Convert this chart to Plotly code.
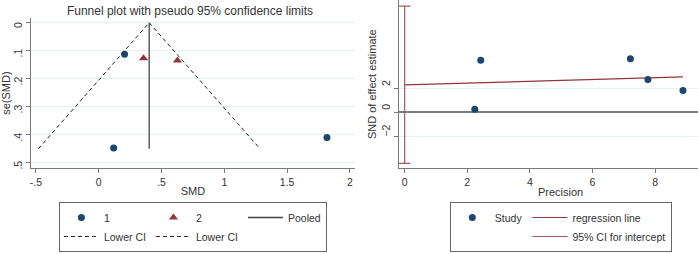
import plotly.graph_objects as go

# ---------------- data ----------------
# Funnel plot (left)
g1_smd = [0.206, 0.119, 1.817]
g1_se = [0.113, 0.447, 0.410]
g2_smd = [0.357, 0.627]
g2_se = [0.127, 0.135]
pooled_smd = [0.402, 0.402]
pooled_se = [0.0, 0.45]
ci_low_smd = [-0.48, 0.402]
ci_low_se = [0.45, 0.0]
ci_up_smd = [0.402, 1.284]
ci_up_se = [0.0, 0.45]
funnel_xticks = [-0.5, 0, 0.5, 1, 1.5, 2]
funnel_xlabels = ["-.5", "0", ".5", "1", "1.5", "2"]
funnel_yticks = [0, 0.1, 0.2, 0.3, 0.4, 0.5]
funnel_ylabels = ["0", ".1", ".2", ".3", ".4", ".5"]

# Egger / Galbraith plot (right)
precision = [2.43, 2.24, 7.21, 7.77, 8.89]
snd = [4.41, 0.26, 4.53, 2.77, 1.84]
reg_x = [0.0, 8.89]
reg_y = [2.32, 3.00]
ci_x = [0.0, 0.0]
ci_y = [-4.30, 8.98]
egger_xticks = [0, 2, 4, 6, 8]
egger_yticks = [-2, 0, 2]

NAVY = "#1a476f"
MAROON = "#90353b"
CI_COL = "#a2575d"
AX = "#7a7a7a"
GRID = "#e6eff1"
FONT = "Arial, Liberation Sans, sans-serif"

W, H = 699, 254

fig = go.Figure()

# left panel traces
fig.add_trace(go.Scatter(x=g1_smd, y=g1_se, mode="markers", name="1",
                         marker=dict(symbol="circle", size=7, color=NAVY),
                         legendgroup="a", legend="legend", xaxis="x", yaxis="y"))
fig.add_trace(go.Scatter(x=g2_smd, y=g2_se, mode="markers", name="2",
                         marker=dict(symbol="triangle-up", size=8, color=MAROON),
                         legendgroup="b", legend="legend", xaxis="x", yaxis="y"))
fig.add_trace(go.Scatter(x=ci_low_smd, y=ci_low_se, mode="lines", name="Lower CI",
                         line=dict(color="#222222", width=1, dash="4px,3px"),
                         legendgroup="a", legend="legend", xaxis="x", yaxis="y"))
fig.add_trace(go.Scatter(x=ci_up_smd, y=ci_up_se, mode="lines", name="Lower CI",
                         line=dict(color="#222222", width=1, dash="4px,3px"),
                         legendgroup="b", legend="legend", xaxis="x", yaxis="y"))
fig.add_trace(go.Scatter(x=pooled_smd, y=pooled_se, mode="lines", name="Pooled",
                         line=dict(color="#444444", width=1.3),
                         legendgroup="c", legend="legend", xaxis="x", yaxis="y"))

# right panel traces
fig.add_trace(go.Scatter(x=ci_x, y=ci_y, mode="lines+markers", name="95% CI for intercept",
                         line=dict(color=CI_COL, width=1.2),
                         marker=dict(symbol="line-ew-open", size=8, color=CI_COL,
                                     line=dict(color=CI_COL, width=1.2)),
                         legendgroup="r2", legend="legend2", legendrank=3,
                         xaxis="x2", yaxis="y2"))
fig.add_trace(go.Scatter(x=reg_x, y=reg_y, mode="lines", name="regression line",
                         line=dict(color=MAROON, width=1.2),
                         legendgroup="r2", legend="legend2", legendrank=2,
                         xaxis="x2", yaxis="y2"))
fig.add_trace(go.Scatter(x=precision, y=snd, mode="markers", name="Study",
                         marker=dict(symbol="circle", size=7, color=NAVY),
                         legendgroup="r1", legend="legend2", legendrank=1,
                         xaxis="x2", yaxis="y2"))

tickfont = dict(family=FONT, size=10.5, color="#333333")
titlefont = dict(family=FONT, size=11, color="#333333")

left_bottom = 169
right_bottom = 169

axis_common = dict(showline=True, linecolor=AX, linewidth=1, ticks="outside",
                   ticklen=4, tickcolor=AX, tickfont=tickfont)

fig.update_layout(
    width=W, height=H,
    margin=dict(l=0, r=0, t=0, b=0),
    paper_bgcolor="white", plot_bgcolor="white",
    font=dict(family=FONT, size=10.5, color="#333333"),
    showlegend=True,
    title=dict(text="Funnel plot with pseudo 95% confidence limits",
               x=190 / W, xanchor="center", y=1 - 11 / H, yanchor="middle",
               font=dict(family=FONT, size=12, color="#333333")),
    xaxis=dict(domain=[27 / W, 353 / W], range=[-0.54, 2.04],
               tickvals=funnel_xticks, ticktext=funnel_xlabels, showgrid=False,
               zeroline=False,
               title=dict(text="SMD", font=titlefont, standoff=0),
               anchor="y", **axis_common),
    yaxis=dict(domain=[1 - left_bottom / H, 1 - 18 / H], range=[0.52, -0.017],
               tickvals=funnel_yticks, ticktext=funnel_ylabels, tickangle=-90,
               ticklabelshift=-4,
               showgrid=True, gridcolor=GRID, gridwidth=1, zeroline=False,
               title=dict(text="se(SMD)", font=titlefont, standoff=4),
               anchor="x", **axis_common),
    xaxis2=dict(domain=[397 / W, 698 / W], range=[-0.19, 9.37],
                tickvals=egger_xticks, showgrid=False, zeroline=False,
                anchor="y2", **axis_common),
    yaxis2=dict(domain=[1 - right_bottom / H, 1.0], range=[-4.72, 9.49],
                tickvals=egger_yticks, tickangle=-90, ticklabelshift=-4,
                showgrid=True, gridcolor=GRID, gridwidth=1,
                title=dict(text="SND of effect estimate", font=titlefont, standoff=0),
                anchor="x2", zeroline=True, zerolinecolor="#7c7c7c", zerolinewidth=1.5,
                **axis_common),
    legend=dict(orientation="h", traceorder="grouped", x=190 / W, xanchor="center",
                y=0.004, yanchor="bottom", bordercolor="#666666", borderwidth=1,
                bgcolor="white", font=dict(family=FONT, size=10.5, color="#333333"),
                itemwidth=35, tracegroupgap=0),
    legend2=dict(orientation="h", traceorder="grouped", x=560 / W, xanchor="center",
                 y=0.004, yanchor="bottom", bordercolor="#666666", borderwidth=1,
                 bgcolor="white", font=dict(family=FONT, size=10.5, color="#333333"),
                 itemwidth=35, tracegroupgap=0),
    annotations=[dict(text="Precision", x=560 / W, xref="paper", xanchor="center",
                      y=1 - (right_bottom + 24) / H, yref="paper", yanchor="middle",
                      showarrow=False, font=titlefont)],
)

fig.write_html("out.html", config={"displayModeBar": False},
               post_script="document.body.style.margin='0';document.body.style.overflow='hidden';")
